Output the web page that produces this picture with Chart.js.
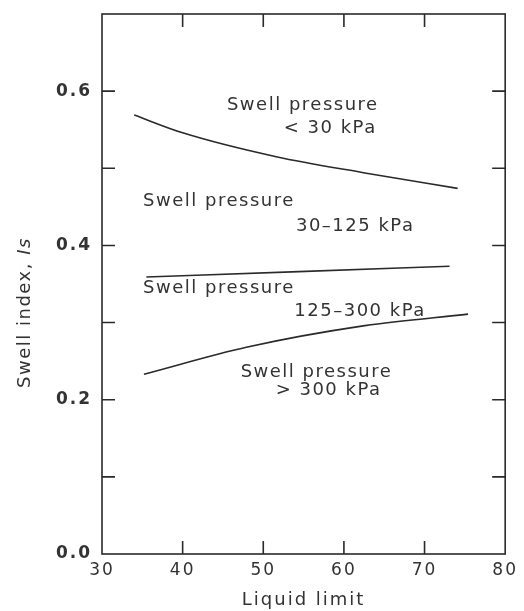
<!DOCTYPE html>
<html>
<head>
<meta charset="utf-8">
<script src="https://cdn.jsdelivr.net/npm/chart.js@4.4.1/dist/chart.umd.min.js"></script>
<style>
  html, body { margin: 0; padding: 0; background: #fff; }
  #wrap { width: 524px; height: 611px; }
</style>
</head>
<body>
<div id="wrap"><canvas id="swellChart" width="524" height="611"></canvas></div>
<script>
// curves (liquid limit vs swell index)
const topX = [34, 40, 51.6, 62.6, 74.1];
const topY = [0.569, 0.546, 0.515, 0.494, 0.474];
const midX = [35.5, 54.4, 73.1];
const midY = [0.359, 0.366, 0.373];
const lowX = [35.2, 47.9, 62.6, 75.4];
const lowY = [0.233, 0.268, 0.296, 0.311];

const xTicks = [30, 40, 50, 60, 70, 80];
const yLabels = [0.0, 0.2, 0.4, 0.6];

// region labels, placed in data units
const noteText = ["Swell pressure", "< 30 kPa", "Swell pressure", "30–125 kPa",
                  "Swell pressure", "125–300 kPa", "Swell pressure", "> 300 kPa"];
const noteX = [54.9, 58.3, 44.5, 61.4, 44.5, 62.0, 56.6, 58.1];
const noteY = [0.582, 0.552, 0.457, 0.425, 0.345, 0.315, 0.236, 0.212];

const ink = "#2a2a2a";
const fontFam = "'DejaVu Sans', sans-serif";

const toPts = (xs, ys) => xs.map((x, i) => ({ x: x, y: ys[i] }));

function curve(xs, ys) {
  return {
    data: toPts(xs, ys),
    showLine: true,
    borderColor: ink,
    borderWidth: 1.6,
    pointRadius: 0,
    cubicInterpolationMode: "monotone",
    fill: false
  };
}

const spacing = {
  id: "spacing",
  beforeUpdate(chart) { chart.ctx.letterSpacing = "2px"; },
  beforeDraw(chart) { chart.ctx.letterSpacing = "2px"; }
};

const frameAndNotes = {
  id: "frameAndNotes",
  afterDatasetsDraw(chart) {
    const { ctx, chartArea: a, scales: { x, y } } = chart;
    const len = 13;
    ctx.save();
    ctx.strokeStyle = ink;
    ctx.lineWidth = 1.6;
    ctx.strokeRect(a.left, a.top, a.right - a.left, a.bottom - a.top);
    ctx.beginPath();
    for (let v = 40; v <= 70; v += 10) {
      const px = x.getPixelForValue(v);
      ctx.moveTo(px, a.bottom); ctx.lineTo(px, a.bottom - len);
      ctx.moveTo(px, a.top); ctx.lineTo(px, a.top + len);
    }
    for (let k = 1; k <= 6; k++) {
      const py = y.getPixelForValue(k / 10);
      ctx.moveTo(a.left, py); ctx.lineTo(a.left + len, py);
      ctx.moveTo(a.right, py); ctx.lineTo(a.right - len, py);
    }
    ctx.stroke();

    ctx.fillStyle = "#333";
    ctx.font = "18px " + fontFam;
    ctx.letterSpacing = "1.5px";
    ctx.textAlign = "center";
    ctx.textBaseline = "middle";
    noteText.forEach((t, i) => {
      ctx.fillText(t, x.getPixelForValue(noteX[i]), y.getPixelForValue(noteY[i]));
    });

    // y title with italic symbol
    const plain = "Swell index, ";
    const sym = "Is";
    ctx.font = "18px " + fontFam;
    ctx.letterSpacing = "1.5px";
    const w1 = ctx.measureText(plain).width;
    ctx.font = "italic 18px " + fontFam;
    const w2 = ctx.measureText(sym).width;
    ctx.translate(25, y.getPixelForValue(0.313));
    ctx.rotate(-Math.PI / 2);
    ctx.textAlign = "left";
    ctx.font = "18px " + fontFam;
    ctx.fillText(plain, -(w1 + w2) / 2, 0);
    ctx.font = "italic 18px " + fontFam;
    ctx.fillText(sym, -(w1 + w2) / 2 + w1, 0);
    ctx.restore();
  }
};

const ctx = document.getElementById("swellChart").getContext("2d");
new Chart(ctx, {
  type: "scatter",
  data: {
    datasets: [curve(topX, topY), curve(midX, midY), curve(lowX, lowY)]
  },
  options: {
    responsive: false,
    animation: false,
    layout: { padding: { top: 14, right: 16, left: 0, bottom: 0 } },
    plugins: {
      legend: { display: false },
      tooltip: { enabled: false }
    },
    scales: {
      x: {
        type: "linear",
        min: 30,
        max: 80,
        afterBuildTicks: s => { s.ticks = xTicks.map(v => ({ value: v })); },
        ticks: {
          color: "#333",
          font: { family: fontFam, size: 17 },
          padding: 6,
          maxRotation: 0
        },
        grid: { display: false, drawTicks: false },
        border: { display: false },
        title: {
          display: true,
          text: "Liquid limit",
          color: "#333",
          font: { family: fontFam, size: 18 },
          padding: { top: 8, bottom: 0 }
        },
        afterFit: s => { s.height = 57; }
      },
      y: {
        type: "linear",
        min: 0,
        max: 0.7,
        afterBuildTicks: s => { s.ticks = yLabels.map(v => ({ value: v })); },
        ticks: {
          color: "#333",
          font: { family: fontFam, size: 17, weight: "bold" },
          padding: 10,
          callback: v => v.toFixed(1)
        },
        grid: { display: false, drawTicks: false },
        border: { display: false },
        afterFit: s => { s.width = 102; s.paddingTop = 0; }
      }
    }
  },
  plugins: [spacing, frameAndNotes]
});
</script>
</body>
</html>
